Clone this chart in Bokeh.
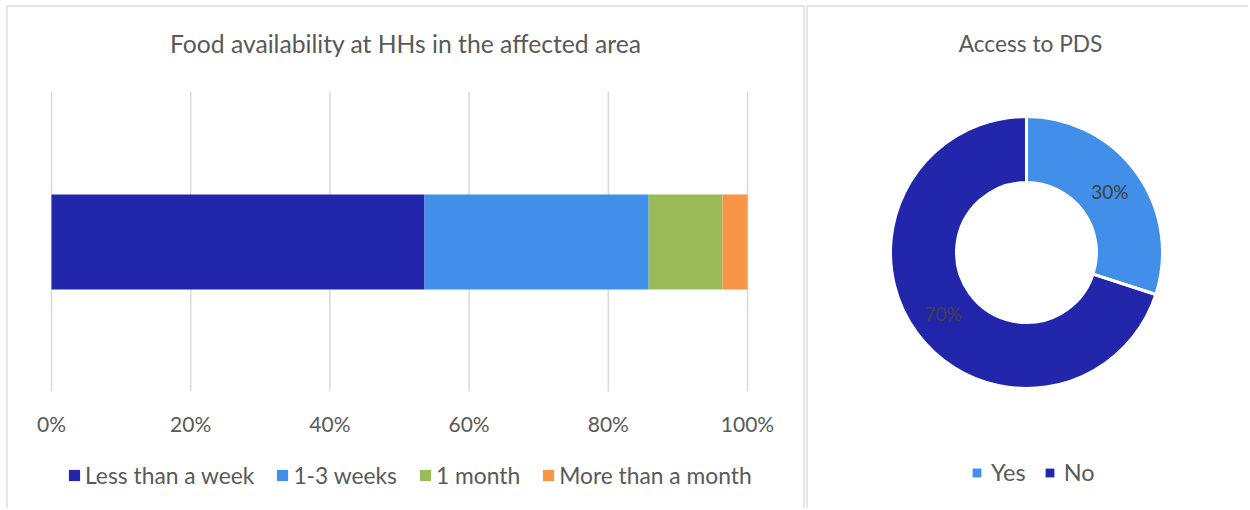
import math
from bokeh.plotting import figure
from bokeh.models import Range1d, Label, Legend, LegendItem, ColumnDataSource
from bokeh.layouts import row
from bokeh.core.properties import value
from bokeh.embed import file_html
from bokeh.resources import INLINE

# ---------------- data ----------------
bar_title = "Food availability at HHs in the affected area"
bar_categories = ["Less than a week", "1-3 weeks", "1 month", "More than a month"]
bar_values = [53.6, 32.2, 10.6, 3.6]
bar_colors = ["#2126AB", "#418FE8", "#9BBB59", "#F79646"]
x_ticks = [0, 20, 40, 60, 80, 100]
x_tick_labels = ["0%", "20%", "40%", "60%", "80%", "100%"]

pie_title = "Access to PDS"
pie_labels = ["Yes", "No"]
pie_values = [30, 70]
pie_colors = ["#418FE8", "#2126AB"]

FONT = "Lato"
TXT = "#595959"
GRID = "#D9D9D9"
H = 508

# ---------------- left: stacked bar ----------------
W1 = 805
X0, XW = 51, 696          # pixel position of 0% and width of 0..100%
sx = XW / 100.0
p1 = figure(width=W1, height=H, output_backend="svg", toolbar_location=None,
            x_range=Range1d(-X0 / sx, (W1 - X0) / sx), y_range=Range1d(H, 0),
            min_border=0, x_axis_location=None, y_axis_location=None)
p1.outline_line_color = None
p1.grid.grid_line_color = None

def px(v):
    return (v - X0) / sx

# panel border
p1.multi_line(xs=[[px(6.5), px(6.5), px(803.5), px(803.5)]],
              ys=[[H + 5, 5.5, 5.5, H + 5]], line_color=GRID, line_width=1.3)

tick_src = ColumnDataSource(dict(x=x_ticks, label=x_tick_labels))
p1.segment(x0="x", y0=91, x1="x", y1=391, source=tick_src,
           line_color=GRID, line_width=1.5)
p1.text(x="x", y=423, text="label", source=tick_src, text_align="center",
        text_baseline="middle", text_font=value(FONT), text_font_size="21px",
        text_color=TXT)

src1 = ColumnDataSource({"y": [241.5], **{c: [v] for c, v in zip(bar_categories, bar_values)}})
rs = p1.hbar_stack(bar_categories, y="y", height=95, color=bar_colors,
                   line_color=None, source=src1)

p1.add_layout(Label(x=50.9, y=42.5, text=bar_title, text_font=FONT,
                    text_font_size="24.7px", text_color=TXT, text_align="center",
                    text_baseline="middle"))

leg1 = Legend(items=[LegendItem(label=c, renderers=[r]) for c, r in zip(bar_categories, rs)],
              orientation="horizontal", location=(67, 19),
              padding=0, margin=0, spacing=21, label_standoff=4,
              glyph_width=14, glyph_height=14,
              label_text_font=FONT, label_text_font_size="22.8px",
              label_text_color=TXT, border_line_color=None,
              background_fill_alpha=0)
p1.add_layout(leg1, "center")

# ---------------- right: donut ----------------
W2 = 443
CX, CY = 221, 252         # donut centre in this panel's pixels (from top-left)
p2 = figure(width=W2, height=H, output_backend="svg", toolbar_location=None,
            x_range=Range1d(-CX, W2 - CX), y_range=Range1d(-(H - CY), CY),
            min_border=0, x_axis_location=None, y_axis_location=None)
p2.outline_line_color = None
p2.grid.grid_line_color = None

p2.multi_line(xs=[[1.5 - CX, 1.5 - CX, W2 - CX + 5]],
              ys=[[-(H - CY) - 5, CY - 5.5, CY - 5.5]], line_color=GRID, line_width=1.3)

total = sum(pie_values)
starts, ends, mids = [], [], []
a = math.pi / 2
for v in pie_values:
    sweep = v / total * 2 * math.pi
    starts.append(a)
    ends.append(a - sweep)
    mids.append(a - sweep / 2)
    a -= sweep
r_in, r_out = 70, 136
r_mid = (r_in + r_out) / 2
src2 = ColumnDataSource(dict(start=starts, end=ends, color=pie_colors, label=pie_labels,
                             tx=[r_mid * math.cos(m) for m in mids],
                             ty=[r_mid * math.sin(m) for m in mids],
                             txt=[f"{v}%" for v in pie_values]))
w = p2.annular_wedge(x=0, y=0, inner_radius=r_in, outer_radius=r_out,
                     start_angle="start", end_angle="end", direction="clock",
                     fill_color="color", line_color=None, source=src2)
p2.annular_wedge(x=0, y=0, inner_radius=r_in, outer_radius=r_out,
                 start_angle="start", end_angle="end", direction="clock",
                 fill_color=None, line_color="white", line_width=3, source=src2)
p2.text(x="tx", y="ty", text="txt", source=src2, text_align="center",
        text_baseline="middle", text_font=value(FONT), text_font_size="19px",
        text_color="#404040")

p2.add_layout(Label(x=4, y=CY - 42.5, text=pie_title, text_font=FONT,
                    text_font_size="22.7px", text_color=TXT, text_align="center",
                    text_baseline="middle"))

leg2 = Legend(items=[LegendItem(label=l, renderers=[w], index=i) for i, l in enumerate(pie_labels)],
              orientation="horizontal", location=(166, 22),
              padding=0, margin=0, spacing=18, label_standoff=9,
              glyph_width=11, glyph_height=11,
              label_text_font=FONT, label_text_font_size="23.5px",
              label_text_color=TXT, border_line_color=None,
              background_fill_alpha=0)
p2.add_layout(leg2, "center")

layout = row(p1, p2, spacing=0)
open("out.html", "w").write(file_html(layout, INLINE))
